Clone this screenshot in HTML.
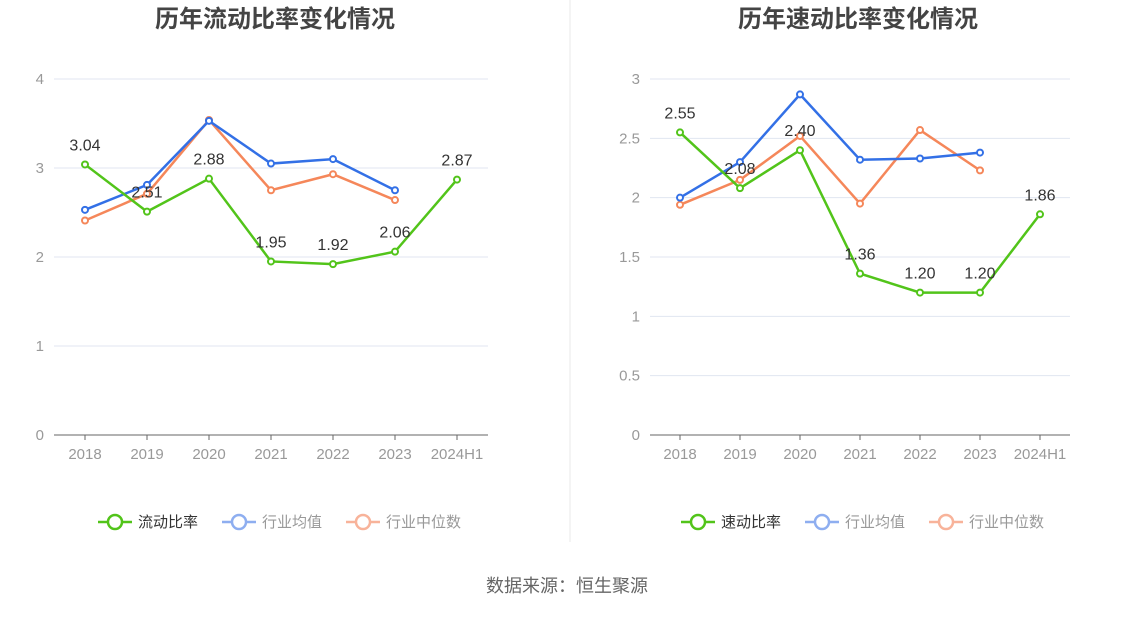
<!DOCTYPE html>
<html><head><meta charset="utf-8"><style>
body{margin:0;background:#fff;font-family:"Liberation Sans","Noto Sans CJK SC",sans-serif;}
</style></head><body>
<svg id="s" width="1134" height="612" xmlns="http://www.w3.org/2000/svg" style="font-family:'Liberation Sans','Noto Sans CJK SC',sans-serif">
<line x1="570" y1="0" x2="570" y2="542" stroke="#e8e8e8"/>
<text x="567" y="592" text-anchor="middle" font-size="18" fill="#666">数据来源：恒生聚源</text>
</svg>
<script>
const categories=["2018","2019","2020","2021","2022","2023","2024H1"];
const leftMain=[3.04,2.51,2.88,1.95,1.92,2.06,2.87];
const leftMean=[2.53,2.81,3.53,3.05,3.10,2.75];
const leftMedian=[2.41,2.71,3.54,2.75,2.93,2.64];
const leftTicks=[0,1,2,3,4];
const rightMain=[2.55,2.08,2.40,1.36,1.20,1.20,1.86];
const rightMean=[2.00,2.30,2.87,2.32,2.33,2.38];
const rightMedian=[1.94,2.15,2.52,1.95,2.57,2.23];
const rightTicks=[0,0.5,1,1.5,2,2.5,3];
const NS="http://www.w3.org/2000/svg";
const svg=document.getElementById('s');
function mk(tag,attrs,parent){const e=document.createElementNS(NS,tag);for(const k in attrs)e.setAttribute(k,attrs[k]);(parent||svg).appendChild(e);return e;}
function chart(o){
  const g=mk('g',{});
  
  
  const y0=435,y1=79,max=o.ticks[o.ticks.length-1];
  const ys=v=>y0-(v/max)*(y0-y1);
  const step=(o.xr-o.xl)/categories.length;
  const xs=i=>o.xl+step*(i+0.5);
  const t=mk('text',{x:o.tc,y:27,'text-anchor':'middle','font-size':24,'font-weight':'bold',fill:'#444'},g);
  t.textContent=o.title;
  
  
  o.ticks.forEach(v=>{
    if(v>0){const l=mk('line',{x1:o.xl,x2:o.xr,y1:ys(v),y2:ys(v),stroke:'#e0e6f1'},g);
    
    }
    const tx=mk('text',{x:o.xl-10,y:ys(v)+5,'text-anchor':'end','font-size':15,fill:'#999'},g);
    tx.textContent=v;
    
    
  });
  const ax=mk('line',{x1:o.xl,x2:o.xr,y1:y0,y2:y0,stroke:'#666'},g);
  
  
  categories.forEach((c,i)=>{
    mk('line',{x1:xs(i),x2:xs(i),y1:y0,y2:y0+5,stroke:'#666'},g);
    const tx=mk('text',{x:xs(i),y:459,'text-anchor':'middle','font-size':15,fill:'#999'},g);
    tx.textContent=c;
    
    
  });
  const series=[[o.median,'#f5875a','median'],[o.mean,'#3370e6','mean'],[o.main,'#52c41a','main']];
  series.forEach(([d,col,n])=>{
    const p=mk('polyline',{points:d.map((v,i)=>xs(i)+','+ys(v)).join(' '),fill:'none',stroke:col,'stroke-width':2.5},g);
    
    
    d.forEach((v,i)=>{
      const c=mk('circle',{cx:xs(i),cy:ys(v),r:3,fill:'#fff',stroke:col,'stroke-width':2},g);
      
      
    });
  });
  o.main.forEach((v,i)=>{
    const tx=mk('text',{x:xs(i),y:ys(v)-14,'text-anchor':'middle','font-size':16,fill:'#333'},g);
    tx.textContent=v.toFixed(2);
    
    
  });
  const leg=[[o.name,'#52c41a','#333'],['行业均值','#8eaef0','#999'],['行业中位数','#f8b39a','#999']];
  let lx=o.tc-177;
  leg.forEach(([n,col,tc],k)=>{
    const lg=mk('g',{},g);
    
    
    mk('line',{x1:lx,x2:lx+34,y1:522,y2:522,stroke:col,'stroke-width':2.5},lg);
    mk('circle',{cx:lx+17,cy:522,r:7,fill:'#fff',stroke:col,'stroke-width':2.5},lg);
    const tx=mk('text',{x:lx+40,y:527,'font-size':15,fill:tc},lg);
    tx.textContent=n;
    lx+=40+n.length*15+24;
  });
}
chart({id:'current-ratio',title:'历年流动比率变化情况',name:'流动比率',tc:275,xl:54,xr:488,ticks:leftTicks,main:leftMain,mean:leftMean,median:leftMedian});
chart({id:'quick-ratio',title:'历年速动比率变化情况',name:'速动比率',tc:858,xl:650,xr:1070,ticks:rightTicks,main:rightMain,mean:rightMean,median:rightMedian});
</script>
</body></html>
